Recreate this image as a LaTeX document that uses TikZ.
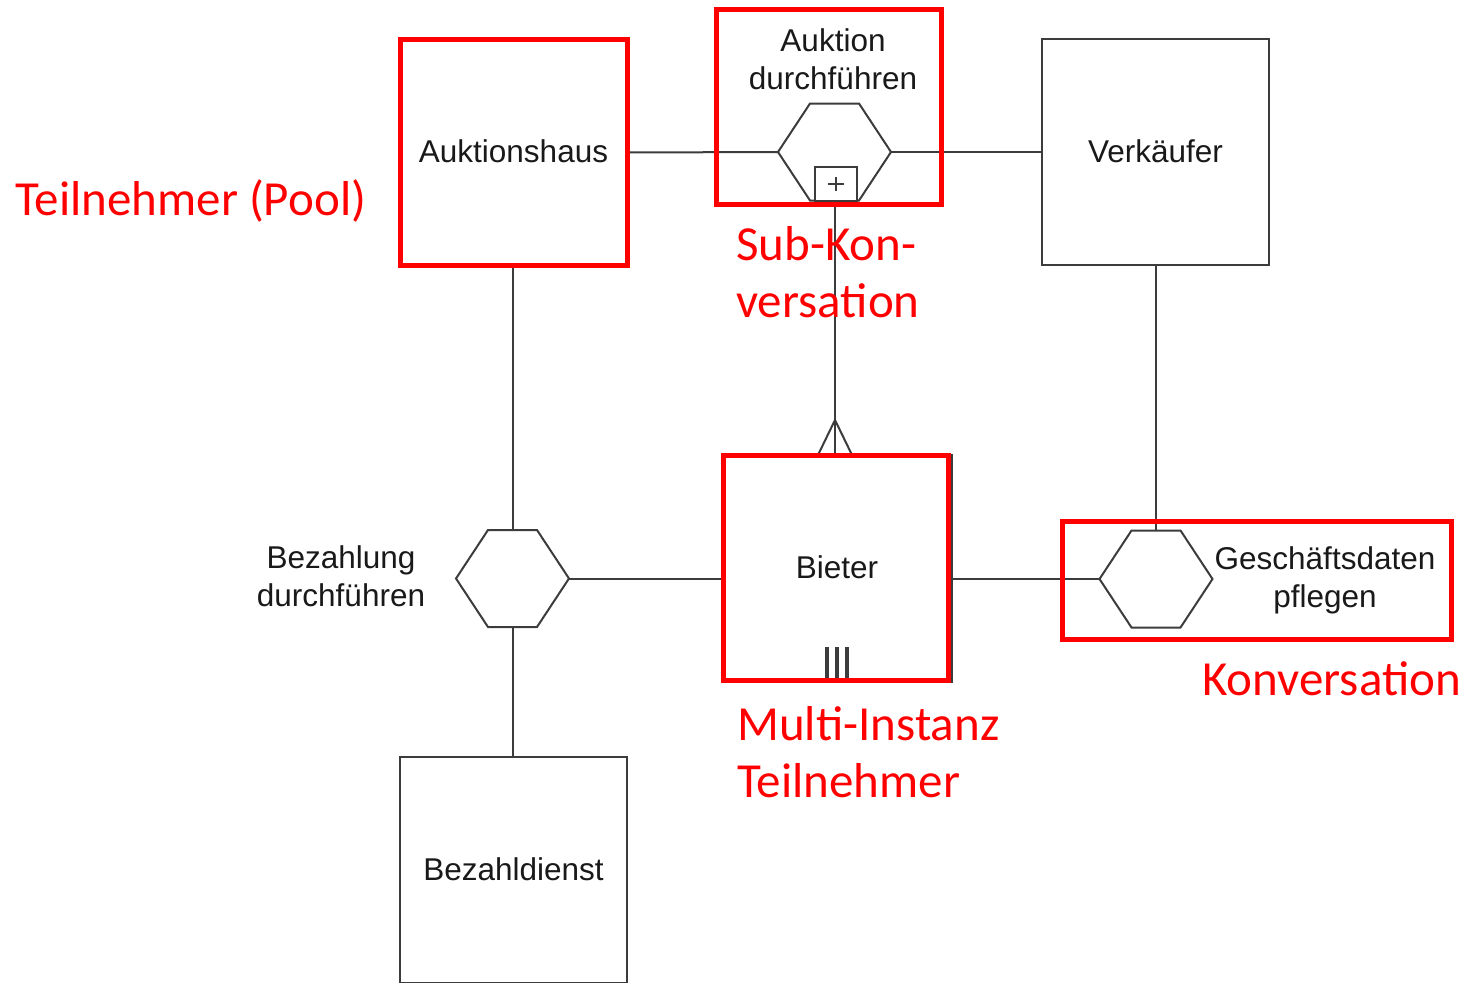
\documentclass[tikz,border=0pt]{standalone}
\usepackage{fontspec}
\setmainfont{Liberation Sans}
\newfontfamily\notefont{Carlito}
\usetikzlibrary{calc}
\definecolor{linegray}{RGB}{60,60,60}
\definecolor{textgray}{RGB}{25,25,25}
\definecolor{markred}{RGB}{255,0,0}
\begin{document}
\begin{tikzpicture}[x=1pt,y=-1pt,
  line/.style={draw=linegray, line width=2pt},
  pool/.style={draw=linegray, line width=2pt, minimum width=227pt, minimum height=226pt,
    inner sep=0pt, outer sep=0pt, text=textgray, font=\fontsize{31.5}{38}\selectfont},
  hexnode/.style={minimum width=113pt, minimum height=97pt, inner sep=0pt, outer sep=0pt},
  lbl/.style={align=center, inner sep=0pt, text=textgray, font=\fontsize{31.5}{38}\selectfont},
  note/.style={inner sep=0pt, text=markred, font=\notefont\fontsize{49}{57}\selectfont},
  hilite/.style={draw=markred, line width=5pt},
]
\useasboundingbox (0,0) rectangle (1463,982);
\clip (0,0) rectangle (1463,982);

% participants (pools)
\node[pool] (auk)    at (513.5,152.5) {\raisebox{2pt}{Auktionshaus}};
\node[pool] (verk)   at (1155.5,152)  {\raisebox{2pt}{Verkäufer}};
\node[pool, minimum width=230pt, minimum height=227pt] (bieter) at (837,568.5) {\raisebox{2pt}{Bieter}};
\node[pool] (bezd)   at (513.5,870)   {\raisebox{2pt}{Bezahldienst}};

% conversations (hexagons)
\node[hexnode] (h1) at (834.5,152) {};
\node[hexnode] (h2) at (512.5,578.5) {};
\node[hexnode] (h3) at (1156,579) {};
\foreach \h in {h1,h2,h3}
  \draw[line, fill=white] (\h.west) -- ([xshift=-24.5pt]\h.north) -- ([xshift=24.5pt]\h.north)
    -- (\h.east) -- ([xshift=24.5pt]\h.south) -- ([xshift=-24.5pt]\h.south) -- cycle;

% sub-conversation marker
\node[draw=linegray, line width=2pt, fill=white, minimum width=42pt, minimum height=34pt,
      inner sep=0pt] (plus) at (836,184) {};
\draw[line] ([xshift=-8pt]plus.center) -- ([xshift=8pt]plus.center);
\draw[line] ([yshift=-7pt]plus.center) -- ([yshift=7pt]plus.center);

% conversation labels
\node[lbl] (l1) at (833,59)    {Auktion\\durchführen};
\node[lbl] (l2) at (341,576.5) {Bezahlung\\durchführen};
\node[lbl] (l3) at (1325,580)  {Geschäftsdaten\\pflegen};

% conversation links
\draw[line] (auk.east) -- (h1.west);
\draw[line] (h1.east) -- (verk.west);
\draw[line] (h3.north) -- (h3.north |- verk.south);
\draw[line] (h2.north) -- (h2.north |- auk.south);
\draw[line] (h2.south) -- (h2.south |- bezd.north);
\draw[line] (h2.east) -- (h2.east -| bieter.west);
\draw[line] (bieter.east |- h3.west) -- (h3.west);
\coordinate (foot) at ([xshift=-1pt]plus.south |- bieter.north);
\coordinate (fork) at ($(foot)+(0,-35)$);
\draw[line] ([xshift=-1pt]plus.south) -- (foot);
\draw[line] ([xshift=-17pt]foot) -- (fork) -- ([xshift=17pt]foot);

% multi-instance marker
\foreach \dx in {-10,0,10}
  \draw[draw=linegray, line width=3.5pt] ([xshift=\dx pt, yshift=2pt]bieter.south) -- ++(0,-33);

% highlights
\draw[hilite] (400,40) rectangle (627,265);
\draw[hilite] (716.5,10) rectangle (941.5,204.5);
\draw[hilite] (723,455) rectangle (948,680);
\draw[hilite] (1062,521) rectangle (1451.5,639.5);

% annotations
\node[note, anchor=base west] (n1) at (15,215.5) {Teilnehmer (Pool)};
\node[note, align=left, anchor=west] (n2) at (736,272.5) {Sub-Kon-\\versation};
\node[note, anchor=base west] (n3) at (1202,695.5) {Konversation};
\node[note, align=left, anchor=west] (n4) at (737,752.5) {Multi-Instanz\\Teilnehmer};
\end{tikzpicture}
\end{document}
